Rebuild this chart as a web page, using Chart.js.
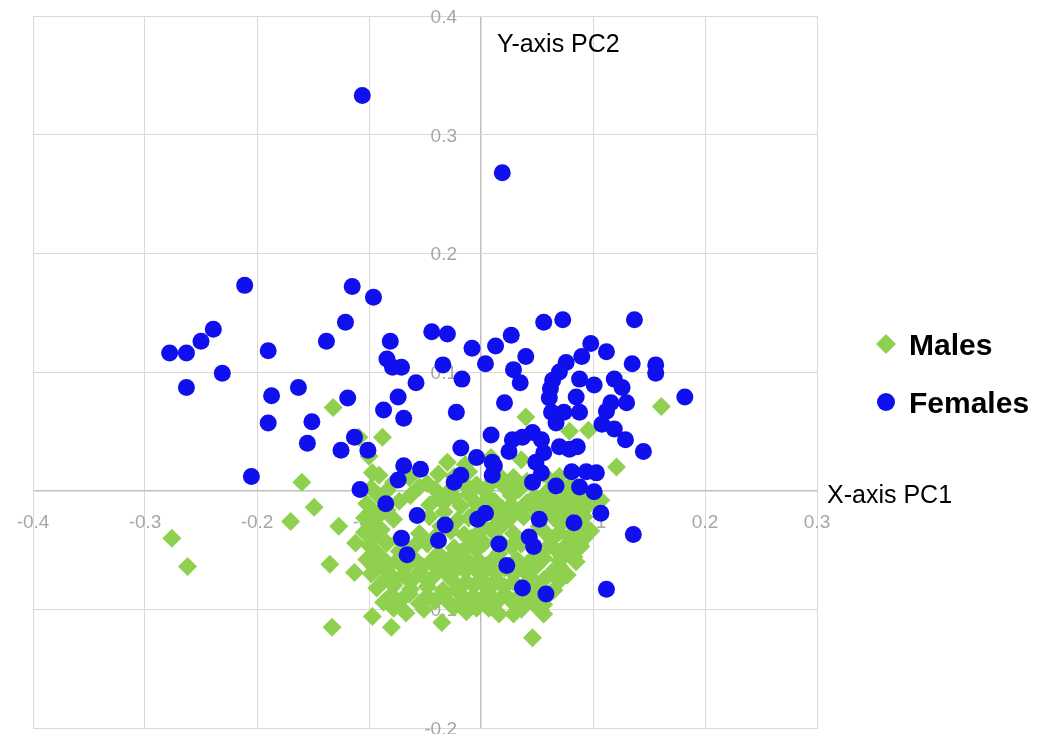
<!DOCTYPE html>
<html>
<head>
<meta charset="utf-8">
<script src="https://cdn.jsdelivr.net/npm/chart.js@4"></script>
<style>
  html, body { margin: 0; padding: 0; background: #ffffff; }
  #wrap { width: 1047px; height: 734px; }
</style>
</head>
<body>
<div id="wrap"><canvas id="c" width="1047" height="734"></canvas></div>
<script>
// ---------------- data ----------------
const seriesNames = ['Males', 'Females'];

const xTicks = [-0.4, -0.3, -0.2, -0.1, 0, 0.1, 0.2, 0.3];
const xTickLabels = ['-0.4', '-0.3', '-0.2', '-0.1', '0', '0.1', '0.2', '0.3'];
const yTicks = [-0.2, -0.1, 0, 0.1, 0.2, 0.3, 0.4];
const yTickLabels = ['-0.2', '-0.1', '0', '0.1', '0.2', '0.3', '0.4'];

const xAxisTitle = 'X-axis PC1';
const yAxisTitle = 'Y-axis PC2';

const maleX = [
  -0.132, -0.088, -0.109, -0.100, -0.097, -0.160, 0.161, 0.040, 0.096, 0.079, 0.121,
  -0.276, -0.262, -0.170, -0.149, -0.127, -0.135, -0.113, -0.133, -0.097, -0.080,
  -0.067, -0.035, 0.016, 0.029, 0.056, 0.046, -0.013, -0.004, -0.112, 0.092, 0.089,
  0.085, 0.107,
  -0.030, -0.014, 0.009, 0.036,
  -0.091, -0.064, -0.038, -0.024, -0.011, 0.016, 0.029, 0.056, 0.070,
  -0.098, -0.084, -0.055, -0.041, -0.029, -0.011, 0.003, 0.021, 0.034, 0.059, 0.074, 0.086,
  -0.102, -0.073, -0.046, -0.033, -0.018, -0.004, 0.012, 0.027, 0.041, 0.056, 0.070, 0.083, 0.096,
  -0.104, -0.091, -0.078, -0.046, -0.021, -0.011, 0.012, 0.025, 0.038, 0.065, 0.077, 0.092,
  -0.104, -0.089, -0.055, -0.027, -0.015, -0.002, 0.009, 0.029, 0.056, 0.070, 0.086, 0.098,
  -0.100, -0.084, -0.060, -0.048, -0.024, -0.011, 0.003, 0.027, 0.036, 0.061, 0.074, 0.088,
  -0.102, -0.089, -0.075, -0.060, -0.045, -0.029, -0.015, -0.002, 0.012, 0.032, 0.043, 0.056, 0.070, 0.083,
  -0.098, -0.084, -0.070, -0.055, -0.042, -0.029, -0.014, 0.000, 0.013, 0.029, 0.043, 0.063, 0.077,
  -0.093, -0.078, -0.063, -0.048, -0.034, -0.020, -0.006, 0.007, 0.021, 0.050, 0.065,
  -0.087, -0.071, -0.055, -0.041, -0.027, -0.014, 0.000, 0.013, 0.027, 0.041, 0.056,
  -0.078, -0.048, -0.018, -0.004, 0.010, 0.027, 0.041, 0.065, 0.080,
  -0.091, -0.063, -0.038, -0.024, -0.011, 0.007, 0.027, 0.048, 0.063, 0.077, 0.090,
  -0.096, -0.084, -0.033, -0.004, 0.019, 0.034, 0.049, 0.063, 0.077, 0.089,
  -0.097, -0.036, 0.000, 0.019, 0.052, 0.071, 0.086,
  -0.096, -0.073, -0.041, -0.009, 0.016, 0.043, 0.063, 0.079, 0.092,
  -0.093, -0.073, -0.038, -0.018, -0.004, 0.016, 0.050, 0.068, 0.080,
  -0.096, -0.082, -0.068, -0.052, -0.036, -0.021, -0.007, 0.005, 0.021, 0.038, 0.050, 0.070,
  -0.087, -0.077, -0.063, -0.048, -0.027, -0.013, 0.002, 0.014, 0.029, 0.043, 0.056, 0.070,
  -0.080, -0.064, -0.048, -0.034, -0.020, -0.007, 0.007, 0.021, 0.034, 0.047, 0.061,
  -0.078, -0.051, -0.024, 0.007, 0.036, 0.050
];
const maleY = [
  0.070, 0.045, 0.045, 0.029, 0.015, 0.007, 0.071, 0.062, 0.051, 0.050, 0.020,
  -0.040, -0.064, -0.026, -0.014, -0.030, -0.062, -0.069, -0.115, -0.106, -0.115,
  -0.103, -0.111, -0.104, -0.104, -0.104, -0.124, -0.102, -0.099, -0.044, -0.030, -0.047,
  -0.060, -0.008,
  0.024, 0.022, 0.028, 0.026,
  0.013, 0.011, 0.014, 0.012, 0.016, 0.013, 0.011, 0.014, 0.012,
  0.002, 0.000, 0.003, 0.001, -0.001, 0.002, 0.000, 0.003, 0.001, -0.001, 0.002, 0.000,
  -0.011, -0.009, -0.012, -0.010, -0.013, -0.011, -0.009, -0.012, -0.010, -0.011, -0.013, -0.010, -0.012,
  -0.023, -0.021, -0.024, -0.022, -0.025, -0.023, -0.021, -0.024, -0.022, -0.023, -0.025, -0.022,
  -0.035, -0.033, -0.036, -0.034, -0.037, -0.035, -0.033, -0.036, -0.034, -0.035, -0.037, -0.034,
  -0.046, -0.044, -0.047, -0.045, -0.048, -0.046, -0.044, -0.047, -0.045, -0.046, -0.048, -0.045,
  -0.058, -0.056, -0.059, -0.057, -0.060, -0.058, -0.056, -0.059, -0.057, -0.058, -0.060, -0.057, -0.059, -0.056,
  -0.070, -0.068, -0.071, -0.069, -0.072, -0.070, -0.068, -0.071, -0.069, -0.070, -0.072, -0.069, -0.071,
  -0.082, -0.080, -0.083, -0.081, -0.084, -0.082, -0.080, -0.083, -0.081, -0.082, -0.084,
  -0.094, -0.092, -0.095, -0.093, -0.096, -0.094, -0.092, -0.095, -0.093, -0.094, -0.096,
  0.007, 0.006, 0.008, 0.005, 0.007, 0.006, 0.008, 0.007, 0.005,
  -0.005, -0.004, -0.006, -0.005, -0.003, -0.006, -0.004, -0.005, -0.006, -0.004, -0.005,
  -0.017, -0.016, -0.018, -0.017, -0.015, -0.018, -0.016, -0.017, -0.018, -0.016,
  -0.029, -0.030, -0.028, -0.029, -0.030, -0.028, -0.029,
  -0.040, -0.041, -0.039, -0.040, -0.042, -0.040, -0.041, -0.039, -0.040,
  -0.052, -0.051, -0.053, -0.052, -0.050, -0.053, -0.052, -0.051, -0.052,
  -0.064, -0.063, -0.065, -0.064, -0.062, -0.065, -0.064, -0.063, -0.065, -0.064, -0.063, -0.064,
  -0.076, -0.075, -0.077, -0.076, -0.074, -0.077, -0.076, -0.075, -0.077, -0.076, -0.075, -0.076,
  -0.088, -0.087, -0.089, -0.088, -0.086, -0.089, -0.088, -0.087, -0.089, -0.088, -0.087,
  -0.099, -0.100, -0.098, -0.099, -0.100, -0.098
];

const femaleX = [
  -0.106, 0.019, -0.211, -0.115, -0.096, -0.239, -0.250, -0.278, -0.263, -0.190,
  -0.138, -0.121, -0.231, -0.263, -0.187, -0.163, -0.119, -0.190, -0.151, -0.155,
  -0.125, -0.113, -0.101, -0.205, -0.108, -0.081, -0.084, -0.079, -0.071, -0.058,
  -0.074, -0.087, -0.069, -0.044, -0.030, -0.034, -0.017, -0.008, 0.004, 0.013,
  0.027, 0.021, -0.022, 0.009, -0.018, -0.004, 0.012, 0.025, -0.069, -0.054,
  -0.074, -0.024, -0.018, 0.056, 0.073, 0.137, 0.040, 0.029, 0.035, 0.098,
  0.112, 0.090, 0.076, 0.070, 0.064, 0.062, 0.061, 0.088, 0.085, 0.101,
  0.119, 0.126, 0.135, 0.156, 0.156, 0.182, 0.130, 0.116, 0.112, 0.063,
  0.074, 0.088, 0.067, 0.108, 0.119, 0.129, 0.145, 0.028, 0.037, 0.046,
  0.054, 0.070, 0.079, 0.086, 0.010, 0.010, 0.049, 0.054, 0.046, 0.056,
  0.081, 0.094, 0.103, 0.088, 0.101, 0.067, -0.085, -0.057, -0.071, -0.066,
  -0.032, -0.038, -0.003, 0.004, 0.016, 0.023, 0.037, 0.058, 0.052, 0.043,
  0.047, 0.083, 0.107, 0.136, 0.112
];
const femaleY = [
  0.333, 0.268, 0.173, 0.172, 0.163, 0.136, 0.126, 0.116, 0.116, 0.118,
  0.126, 0.142, 0.099, 0.087, 0.080, 0.087, 0.078, 0.057, 0.058, 0.040,
  0.034, 0.045, 0.034, 0.012, 0.001, 0.126, 0.111, 0.104, 0.104, 0.091,
  0.079, 0.068, 0.061, 0.134, 0.132, 0.106, 0.094, 0.120, 0.107, 0.122,
  0.131, 0.074, 0.066, 0.047, 0.036, 0.028, 0.021, 0.033, 0.021, 0.018,
  0.009, 0.007, 0.013, 0.142, 0.144, 0.144, 0.113, 0.102, 0.091, 0.124,
  0.117, 0.113, 0.108, 0.100, 0.093, 0.086, 0.078, 0.094, 0.079, 0.089,
  0.094, 0.087, 0.107, 0.106, 0.099, 0.079, 0.074, 0.074, 0.067, 0.066,
  0.066, 0.066, 0.057, 0.056, 0.052, 0.043, 0.033, 0.043, 0.045, 0.049,
  0.043, 0.037, 0.035, 0.037, 0.024, 0.013, 0.024, 0.015, 0.007, 0.032,
  0.016, 0.016, 0.015, 0.003, -0.001, 0.004, -0.011, -0.021, -0.040, -0.054,
  -0.029, -0.042, -0.024, -0.019, -0.045, -0.063, -0.082, -0.087, -0.024, -0.039,
  -0.047, -0.027, -0.019, -0.037, -0.083
];

// ---------------- styles ----------------
const maleColor = '#8fd14f';
const femaleColor = '#1010ee';
const gridColor = '#d9d9d9';
const zeroColor = '#bfbfbf';
const tickColor = '#a6a6a6';
const FONT = '"Liberation Sans", Arial, sans-serif';

const toPoints = (xs, ys) => xs.map((v, i) => ({ x: v, y: ys[i] }));

const overlay = {
  id: 'overlay',
  beforeDatasetsDraw(chart) {
    const { ctx, scales: { x, y } } = chart;
    const x0 = x.getPixelForValue(0);
    const y0 = y.getPixelForValue(0);
    ctx.save();
    ctx.fillStyle = tickColor;
    ctx.font = '19px ' + FONT;
    ctx.textBaseline = 'alphabetic';
    ctx.textAlign = 'center';
    xTicks.forEach((v, i) => ctx.fillText(xTickLabels[i], x.getPixelForValue(v), y0 + 37));
    ctx.textAlign = 'right';
    yTicks.forEach((v, i) => ctx.fillText(yTickLabels[i], x0 - 24, y.getPixelForValue(v) + 7));
    ctx.restore();
  },
  afterDraw(chart) {
    const { ctx, chartArea, scales: { x, y } } = chart;
    const x0 = x.getPixelForValue(0);
    const y0 = y.getPixelForValue(0);
    ctx.save();
    ctx.fillStyle = '#000000';
    ctx.font = '25px ' + FONT;
    ctx.textAlign = 'left';
    ctx.textBaseline = 'alphabetic';
    ctx.fillText(yAxisTitle, x0 + 16, chartArea.top + 36);
    ctx.fillText(xAxisTitle, chartArea.right + 10, y0 + 12);

    // legend
    const lx = chartArea.right + 69;
    const rows = [
      { name: seriesNames[0], color: maleColor, style: 'rectRot', r: 10, cy: 344 },
      { name: seriesNames[1], color: femaleColor, style: 'circle', r: 9, cy: 402 }
    ];
    ctx.font = 'bold 30px ' + FONT;
    rows.forEach(rw => {
      ctx.fillStyle = rw.color;
      ctx.strokeStyle = rw.color;
      Chart.helpers.drawPoint(ctx, { pointStyle: rw.style, radius: rw.r, rotation: 0, borderWidth: 0 }, lx, rw.cy);
      ctx.fillStyle = '#000000';
      ctx.fillText(rw.name, lx + 23, rw.cy + 11);
    });
    ctx.restore();
  }
};

new Chart(document.getElementById('c'), {
  type: 'scatter',
  data: {
    datasets: [
      {
        label: seriesNames[0],
        data: toPoints(maleX, maleY),
        pointStyle: 'rectRot',
        pointRadius: 9.5,
        pointBorderWidth: 0,
        backgroundColor: maleColor,
        borderColor: maleColor,
        order: 1
      },
      {
        label: seriesNames[1],
        data: toPoints(femaleX, femaleY),
        pointStyle: 'circle',
        pointRadius: 8.5,
        pointBorderWidth: 0,
        backgroundColor: femaleColor,
        borderColor: femaleColor,
        order: 0
      }
    ]
  },
  options: {
    responsive: false,
    devicePixelRatio: 1,
    animation: false,
    events: [],
    layout: { autoPadding: false, padding: { left: 33, top: 16, right: 230, bottom: 6 } },
    plugins: { legend: { display: false }, tooltip: { enabled: false } },
    scales: {
      x: {
        type: 'linear',
        min: -0.4, max: 0.3,
        ticks: { display: false, stepSize: 0.1 },
        grid: {
          drawTicks: false,
          color: c => (Math.abs(c.tick.value) < 1e-9 ? zeroColor : gridColor),
          lineWidth: c => (Math.abs(c.tick.value) < 1e-9 ? 1.5 : 1)
        },
        border: { color: gridColor }
      },
      y: {
        type: 'linear',
        min: -0.2, max: 0.4,
        ticks: { display: false, stepSize: 0.1 },
        grid: {
          drawTicks: false,
          color: c => (Math.abs(c.tick.value) < 1e-9 ? zeroColor : gridColor),
          lineWidth: c => (Math.abs(c.tick.value) < 1e-9 ? 1.5 : 1)
        },
        border: { color: gridColor }
      }
    }
  },
  plugins: [overlay]
});
</script>
</body>
</html>
